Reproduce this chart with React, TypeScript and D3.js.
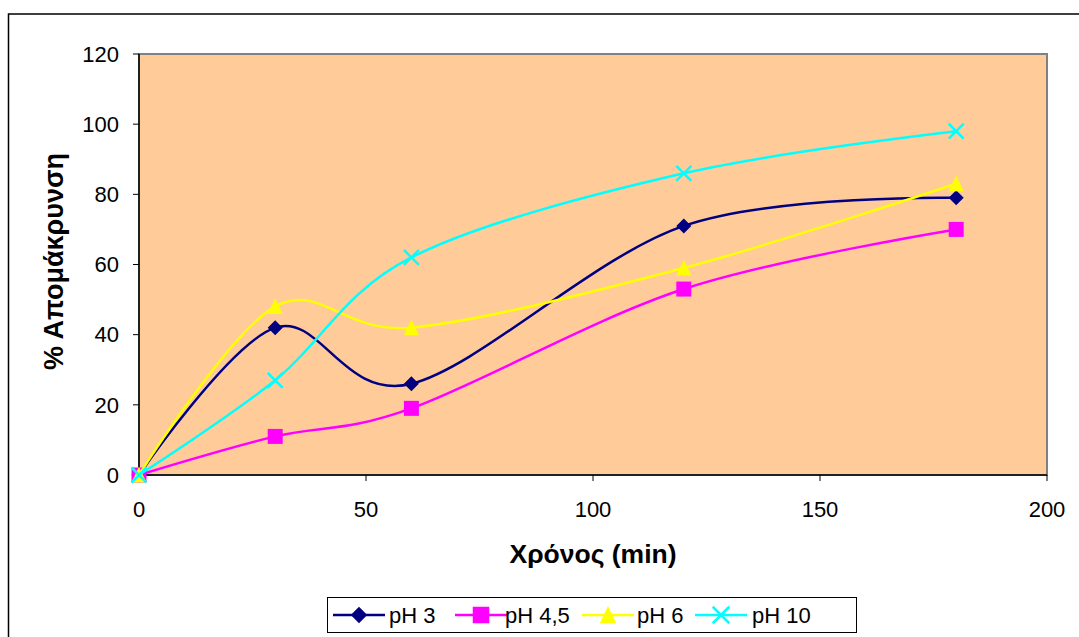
import React from "react";
import * as d3 from "d3";

const timeMin = [0, 30, 60, 120, 180];
const ph3 = [0, 42, 26, 71, 79];
const ph45 = [0, 11, 19, 53, 70];
const ph6 = [0, 48, 42, 59, 83];
const ph10 = [0, 27, 62, 86, 98];
const seriesNames = ["pH 3", "pH 4,5", "pH 6", "pH 10"];
const xTicks = [0, 50, 100, 150, 200];
const yTicks = [0, 20, 40, 60, 80, 100, 120];

const colors = ["#000080", "#FF00FF", "#FFFF00", "#00FFFF"];
const shapes = ["diamond", "square", "triangle", "x"];

const W = 1079;
const H = 637;
const plot = { left: 139, top: 54, right: 1047, bottom: 475 };
const FONT = "'Liberation Sans', Arial, sans-serif";

function Marker({ shape, x, y, color, s = 1 }: { shape: string; x: number; y: number; color: string; s?: number }) {
  if (shape === "diamond") {
    const r = 7.5 * s;
    return <path d={`M${x},${y - r}L${x + r},${y}L${x},${y + r}L${x - r},${y}Z`} fill={color} />;
  }
  if (shape === "square") {
    const r = 7.5 * s;
    return <rect x={x - r} y={y - r} width={2 * r} height={2 * r} fill={color} />;
  }
  if (shape === "triangle") {
    const r = 7.5 * s;
    return <path d={`M${x},${y - r * 1.1}L${x + r},${y + r}L${x - r},${y + r}Z`} fill={color} />;
  }
  const r = 7.5 * s;
  return (
    <path
      d={`M${x - r},${y - r}L${x + r},${y + r}M${x - r},${y + r}L${x + r},${y - r}`}
      stroke={color}
      strokeWidth={2.5}
      fill="none"
    />
  );
}

export default function App() {
  const x = d3.scaleLinear().domain([0, 200]).range([plot.left, plot.right]);
  const y = d3.scaleLinear().domain([0, 120]).range([plot.bottom, plot.top]);
  const series = [ph3, ph45, ph6, ph10];
  const line = d3
    .line<[number, number]>()
    .x((d) => x(d[0]))
    .y((d) => y(d[1]))
    .curve(d3.curveCardinal.tension(0));

  const legendItems = [
    { x0: 333, tx: 389 },
    { x0: 455, tx: 505 },
    { x0: 582, tx: 637 },
    { x0: 695, tx: 752 },
  ];
  const legendY = 615;

  return (
    <svg
      width={W}
      height={H}
      style={{ position: "absolute", left: 0, top: 0, background: "#fff" }}
      fontFamily={FONT}
    >
      <rect x={8.5} y={14} width={1100} height={700} fill="#fff" stroke="#000" strokeWidth={1.5} />
      <rect
        x={plot.left}
        y={plot.top}
        width={plot.right - plot.left}
        height={plot.bottom - plot.top}
        fill="#FFCC99"
        stroke="#808080"
        strokeWidth={2}
      />
      {/* axes */}
      <line x1={plot.left} y1={plot.top} x2={plot.left} y2={plot.bottom} stroke="#000" strokeWidth={1.5} />
      <line x1={plot.left} y1={plot.bottom} x2={plot.right} y2={plot.bottom} stroke="#000" strokeWidth={1.5} />
      {yTicks.map((t) => (
        <g key={"y" + t}>
          <line x1={plot.left - 6} x2={plot.left} y1={y(t)} y2={y(t)} stroke="#000" strokeWidth={1} />
          <text x={plot.left - 20} y={y(t)} dy="0.35em" textAnchor="end" fontSize={22}>
            {t}
          </text>
        </g>
      ))}
      {xTicks.map((t) => (
        <g key={"x" + t}>
          <line x1={x(t)} x2={x(t)} y1={plot.bottom} y2={plot.bottom + 6} stroke="#000" strokeWidth={1} />
          <text x={x(t)} y={plot.bottom + 42} textAnchor="middle" fontSize={22}>
            {t}
          </text>
        </g>
      ))}
      <text x={593} y={563} textAnchor="middle" fontSize={26.5} fontWeight="bold">
        Χρόνος (min)
      </text>
      <text
        transform={`translate(63,${(plot.top + plot.bottom) / 2 - 3}) rotate(-90)`}
        textAnchor="middle"
        fontSize={27}
        fontWeight="bold"
      >
        % Απομάκρυνση
      </text>
      {/* series */}
      {series.map((vals, i) => {
        const pts = timeMin.map((t, j) => [t, vals[j]] as [number, number]);
        return (
          <g key={seriesNames[i]}>
            <path d={line(pts) || ""} fill="none" stroke={colors[i]} strokeWidth={2.5} />
            {pts.map((p, j) => (
              <Marker key={j} shape={shapes[i]} x={x(p[0])} y={y(p[1])} color={colors[i]} />
            ))}
          </g>
        );
      })}
      {/* legend */}
      <rect x={327.5} y={597.5} width={529} height={35} fill="#fff" stroke="#000" strokeWidth={1} />
      {seriesNames.map((name, i) => (
        <g key={name}>
          <line
            x1={legendItems[i].x0}
            x2={legendItems[i].x0 + 52}
            y1={legendY}
            y2={legendY}
            stroke={colors[i]}
            strokeWidth={2.5}
          />
          <Marker shape={shapes[i]} x={legendItems[i].x0 + 26} y={legendY} color={colors[i]} s={1.1} />
          <text x={legendItems[i].tx} y={legendY} dy="0.36em" fontSize={22}>
            {name}
          </text>
        </g>
      ))}
    </svg>
  );
}
